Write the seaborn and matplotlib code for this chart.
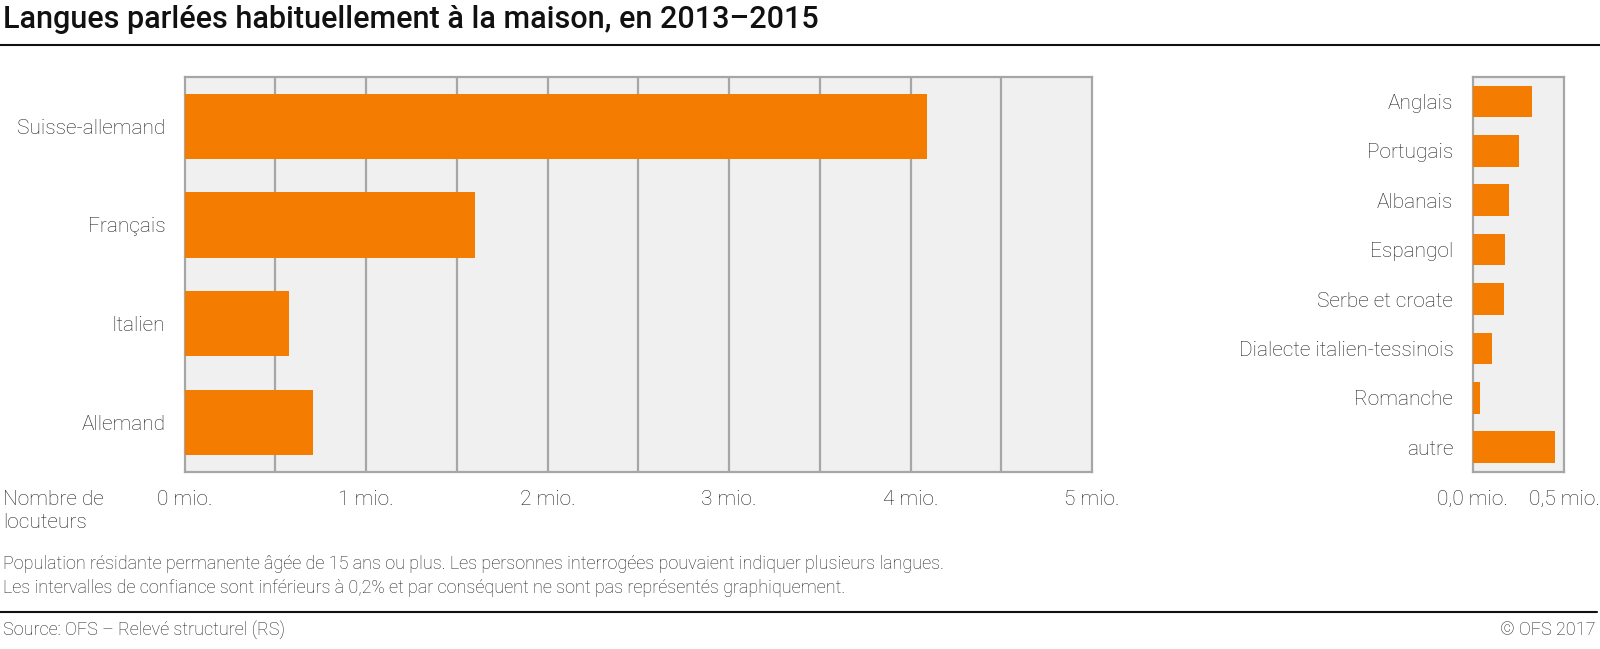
import pandas as pd
import seaborn as sns
import matplotlib.pyplot as plt
from matplotlib.ticker import FixedLocator

# main languages (million speakers)
main_langs = ["Suisse-allemand", "Français", "Italien", "Allemand"]
main_vals = [4.09, 1.60, 0.574, 0.709]

# other languages (million speakers)
other_langs = ["Anglais", "Portugais", "Albanais", "Espangol", "Serbe et croate",
               "Dialecte italien-tessinois", "Romanche", "autre"]
other_vals = [0.325, 0.252, 0.200, 0.175, 0.171, 0.108, 0.038, 0.452]

main_ticks = [0, 1, 2, 3, 4, 5]
main_tick_labels = ["0 mio.", "1 mio.", "2 mio.", "3 mio.", "4 mio.", "5 mio."]
other_ticks = [0, 0.5]
other_tick_labels = ["0,0 mio.", "0,5 mio."]

orange = "#F47C00"
grid_grey = "#A6A6A6"
text_col = "#222222"

sns.set_theme(style="white")
plt.rcParams["font.family"] = ["Roboto", "DejaVu Sans"]
plt.rcParams["font.weight"] = "light"

fig = plt.figure(figsize=(16, 6.49), dpi=100)
W, H = 1600, 649

def axes_px(x0, y0, x1, y1):
    return fig.add_axes([x0 / W, 1 - y1 / H, (x1 - x0) / W, (y1 - y0) / H])

ax1 = axes_px(184.7, 76.7, 1092, 472)
ax2 = axes_px(1472.7, 76.7, 1564, 472)

df_main = pd.DataFrame({"langue": main_langs, "valeur": main_vals})
df_other = pd.DataFrame({"langue": other_langs, "valeur": other_vals})

sns.barplot(data=df_main, x="valeur", y="langue", color=orange, saturation=1,
            width=0.66, linewidth=0, ax=ax1, zorder=3)
sns.barplot(data=df_other, x="valeur", y="langue", color=orange, saturation=1,
            width=0.64, linewidth=0, ax=ax2, zorder=3)

for ax in (ax1, ax2):
    ax.set_facecolor("#F0F0F0")
    ax.set_xlabel("")
    ax.set_ylabel("")
    for s in ax.spines.values():
        s.set_color(grid_grey)
        s.set_linewidth(1.6)
    ax.tick_params(axis="y", length=0, labelsize=15, labelcolor=text_col, pad=14)
    ax.tick_params(axis="x", which="both", length=5, width=1.5, color=grid_grey,
                   labelsize=15, labelcolor=text_col, pad=8)

ax1.set_xlim(0, 5)
ax1.set_ylim(3.5, -0.5)
ax1.xaxis.set_major_locator(FixedLocator(main_ticks))
ax1.set_xticklabels(main_tick_labels)
ax1.xaxis.set_minor_locator(FixedLocator([0.5, 1.5, 2.5, 3.5, 4.5]))
for x in [0.5, 1, 1.5, 2, 2.5, 3, 3.5, 4, 4.5]:
    ax1.axvline(x, color=grid_grey, lw=1.6, zorder=1)

ax2.set_xlim(0, 0.5)
ax2.set_ylim(7.5, -0.5)
ax2.xaxis.set_major_locator(FixedLocator(other_ticks))
ax2.set_xticklabels(other_tick_labels)

fig.text(3 / W, 1 - 20 / H, "Langues parlées habituellement à la maison, en 2013–2015",
         fontsize=22, fontweight="medium", color="#111111", va="center", ha="left")
fig.add_artist(plt.Line2D([0, 1], [1 - 45 / H] * 2, color="#111111", lw=1.5))

fig.text(3 / W, 1 - 490 / H, "Nombre de\nlocuteurs", fontsize=15, color=text_col,
         va="top", ha="left", linespacing=1.3)

fig.text(3 / W, 1 - 564 / H,
         "Population résidante permanente âgée de 15 ans ou plus. Les personnes interrogées pouvaient indiquer plusieurs langues.",
         fontsize=13, color=text_col, va="center", ha="left")
fig.text(3 / W, 1 - 588 / H,
         "Les intervalles de confiance sont inférieurs à 0,2% et par conséquent ne sont pas représentés graphiquement.",
         fontsize=13, color=text_col, va="center", ha="left")

fig.add_artist(plt.Line2D([0, 0.998], [1 - 612 / H] * 2, color="#111111", lw=1.5))
fig.text(3 / W, 1 - 630 / H, "Source: OFS – Relevé structurel (RS)", fontsize=13,
         color=text_col, va="center", ha="left")
fig.text(1596 / W, 1 - 630 / H, "© OFS 2017", fontsize=13, color=text_col,
         va="center", ha="right")

fig.savefig("out.png", dpi=100)
